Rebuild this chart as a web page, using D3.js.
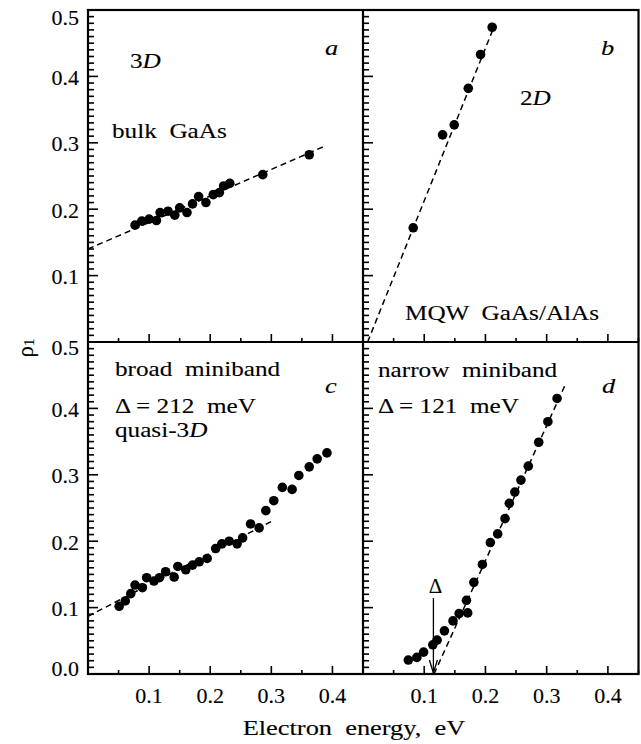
<!DOCTYPE html>
<html>
<head>
<meta charset="utf-8">
<script src="https://cdn.jsdelivr.net/npm/d3@7"></script>
<style>
  body { margin: 0; background: #fff; }
  svg text { font-family: "Liberation Serif", "Times New Roman", Times, serif; fill: #000; white-space: pre;
             stroke: #000; stroke-width: 0.12px; }
</style>
</head>
<body>
<div id="chart"></div>
<script>
// panel a: bulk GaAs
const aX = [0.077, 0.088, 0.100, 0.112, 0.118, 0.131, 0.142, 0.150, 0.162, 0.171, 0.181, 0.193, 0.205, 0.215, 0.222, 0.232, 0.286, 0.362];
const aY = [0.176, 0.182, 0.185, 0.183, 0.195, 0.197, 0.191, 0.202, 0.195, 0.208, 0.219, 0.210, 0.222, 0.225, 0.235, 0.239, 0.252, 0.282];
const aFit = [[0.0, 0.140], [0.385, 0.294]];

// panel b: MQW GaAs/AlAs
const bX = [0.082, 0.130, 0.149, 0.172, 0.192, 0.211];
const bY = [0.172, 0.312, 0.327, 0.382, 0.433, 0.474];
const bFit = [[0.0075, 0.0], [0.213, 0.4725]];

// panel c: broad miniband
const cX = [0.051, 0.061, 0.070, 0.077, 0.089, 0.096, 0.108, 0.117, 0.127, 0.141, 0.147, 0.160, 0.171, 0.182, 0.195,
            0.209, 0.219, 0.231, 0.244, 0.253, 0.266, 0.280, 0.291, 0.304, 0.318, 0.334, 0.345, 0.362, 0.375, 0.391];
const cY = [0.102, 0.110, 0.121, 0.134, 0.130, 0.145, 0.140, 0.145, 0.154, 0.146, 0.162, 0.157, 0.164, 0.169, 0.174,
            0.189, 0.196, 0.200, 0.196, 0.205, 0.226, 0.220, 0.246, 0.261, 0.281, 0.278, 0.299, 0.312, 0.324, 0.333];
const cFit = [[0.0, 0.087], [0.305, 0.232]];

// panel d: narrow miniband
const dX = [0.074, 0.088, 0.099, 0.114, 0.121, 0.133, 0.147, 0.157, 0.171, 0.169, 0.181, 0.195, 0.208, 0.220, 0.232,
            0.239, 0.248, 0.258, 0.270, 0.287, 0.302, 0.317];
const dY = [0.021, 0.025, 0.033, 0.044, 0.051, 0.065, 0.080, 0.091, 0.092, 0.111, 0.138, 0.165, 0.198, 0.211, 0.234,
            0.257, 0.274, 0.292, 0.313, 0.349, 0.380, 0.415];
const dFit = [[0.116, 0.0], [0.330, 0.435]];
const dGap = 0.115; // arrow marking the miniband width

const xTicks = [0.1, 0.2, 0.3, 0.4];
const xMinor = [0.05, 0.15, 0.25, 0.35, 0.45];
const yTicksTop = [0.1, 0.2, 0.3, 0.4, 0.5];
const yTicksBottom = [0.0, 0.1, 0.2, 0.3, 0.4, 0.5];
const yMajor = [0.1, 0.2, 0.3, 0.4];
const yMinor = d3.range(1, 50).filter(i => i % 10 !== 0).map(i => i / 100);

const width = 641, height = 744;
const padL = 88, padMid = 363, padR = 638.5, padT = 10, padMidY = 342, padB = 674;

const svg = d3.select("#chart").append("svg")
    .attr("width", width)
    .attr("height", height);

const xL = d3.scaleLinear().domain([0, 0.45]).range([padL, padMid]);
const xR = d3.scaleLinear().domain([0, 0.45]).range([padMid, padR]);
const yT = d3.scaleLinear().domain([0, 0.5]).range([padMidY, padT]);
const yB = d3.scaleLinear().domain([0, 0.5]).range([padB, padMidY]);

const panels = [
    { xs: aX, ys: aY, fit: aFit, x: xL, y: yT, yLab: yTicksTop, xLab: false },
    { xs: bX, ys: bY, fit: bFit, x: xR, y: yT, yLab: null, xLab: false },
    { xs: cX, ys: cY, fit: cFit, x: xL, y: yB, yLab: yTicksBottom, xLab: true },
    { xs: dX, ys: dY, fit: dFit, x: xR, y: yB, yLab: null, xLab: true }
];

const fmt = d3.format(".1f");

panels.forEach(p => {
    const x0 = p.x.range()[0];
    const y0 = p.y.range()[0];
    const g = svg.append("g").attr("fill", "#000");

    // inward y ticks as thin filled bars: minor every 0.01, major every 0.1
    g.selectAll("rect.ym")
        .data(yMinor.map(v => [v, 6]).concat(yMajor.map(v => [v, 10])))
        .join("rect")
        .attr("class", "ym")
        .attr("x", x0)
        .attr("y", d => p.y(d[0]) - 0.8)
        .attr("width", d => d[1])
        .attr("height", 1.6);

    // inward x ticks
    g.selectAll("rect.xm")
        .data(xMinor.map(v => [v, 4]).concat(xTicks.map(v => [v, 8])))
        .join("rect")
        .attr("class", "xm")
        .attr("x", d => p.x(d[0]) - 0.8)
        .attr("y", d => y0 - d[1])
        .attr("width", 1.6)
        .attr("height", d => d[1]);

    // tick labels
    if (p.yLab) {
        svg.append("g").selectAll("text")
            .data(p.yLab)
            .join("text")
            .attr("x", x0 - 9)
            .attr("y", d => p.y(d))
            .attr("text-anchor", "end")
            .attr("font-size", 22)
            // labels at the panel edges sit a little inside
            .attr("dy", d => d === 0.5 ? (p.y === yT ? "0.67em" : "0.57em") : d === 0 ? "0.08em" : "0.39em")
            .text(fmt);
    }
    if (p.xLab) {
        svg.append("g").selectAll("text")
            .data(xTicks)
            .join("text")
            .attr("x", d => p.x(d))
            .attr("y", y0 + 29)
            .attr("text-anchor", "middle")
            .attr("font-size", 22)
            .text(fmt);
    }

    // dashed fit
    svg.append("path")
        .datum(p.fit)
        .attr("d", d3.line().x(d => p.x(d[0])).y(d => p.y(d[1])))
        .attr("fill", "none")
        .attr("stroke", "#000")
        .attr("stroke-width", 1.5)
        .attr("stroke-dasharray", "6,4");

    // points
    svg.append("g").selectAll("circle")
        .data(p.xs.map((v, i) => [v, p.ys[i]]))
        .join("circle")
        .attr("cx", d => p.x(d[0]))
        .attr("cy", d => p.y(d[1]))
        .attr("r", 4.8)
        .attr("fill", "#000");
});

// frame
const frame = svg.append("g").attr("stroke", "#000").attr("stroke-width", 2.2).attr("fill", "none");
frame.append("rect").attr("x", padL).attr("y", padT).attr("width", padR - padL).attr("height", padB - padT);
frame.append("line").attr("x1", padMid).attr("x2", padMid).attr("y1", padT).attr("y2", padB);
frame.append("line").attr("x1", padL).attr("x2", padR).attr("y1", padMidY).attr("y2", padMidY);

// annotations
function note(x, y, parts, size) {
    const t = svg.append("text")
        .attr("transform", `translate(${x},${y}) scale(1.2,1)`)
        .attr("font-size", size || 21);
    parts.forEach(pt => {
        const s = t.append("tspan").text(typeof pt === "string" ? pt : pt.t);
        if (pt.i) s.attr("font-style", "italic");
    });
}

note(130, 68, ["3", { t: "D", i: true }]);
note(112, 138, ["bulk  GaAs"]);
note(325, 55, [{ t: "a", i: true }], 22);
note(601, 55, [{ t: "b", i: true }], 22);
note(520, 105, ["2", { t: "D", i: true }]);
note(405, 320, ["MQW  GaAs/AlAs"]);
note(325, 393, [{ t: "c", i: true }], 22);
note(602, 393, [{ t: "d", i: true }], 22);
note(115, 376, ["broad  miniband"]);
note(115, 413, ["\u0394 = 212  meV"]);
note(115, 437, ["quasi-3", { t: "D", i: true }]);
note(378, 377, ["narrow  miniband"]);
note(378, 413, ["\u0394 = 121  meV"]);

// gap arrow in panel d
const ax = xR(dGap);
svg.append("text")
    .attr("x", ax + 2).attr("y", 593)
    .attr("text-anchor", "middle")
    .attr("font-size", 21)
    .text("\u0394");
svg.append("line")
    .attr("x1", ax).attr("x2", ax)
    .attr("y1", 598).attr("y2", yB(0) - 1)
    .attr("stroke", "#000").attr("stroke-width", 1.3);
svg.append("path")
    .attr("d", `M${ax - 4},${yB(0) - 14} L${ax},${yB(0) - 1} L${ax + 4},${yB(0) - 14}`)
    .attr("fill", "none").attr("stroke", "#000").attr("stroke-width", 1.3);

// axis titles
svg.append("text")
    .attr("transform", `translate(354,735) scale(1.2,1)`)
    .attr("text-anchor", "middle")
    .attr("font-size", 22)
    .text("Electron  energy,  eV");

const yt = svg.append("text")
    .attr("transform", "translate(33,348) rotate(-90)")
    .attr("text-anchor", "middle")
    .attr("font-size", 23);
yt.append("tspan").text("\u03c1");
yt.append("tspan").attr("font-size", 15).attr("dy", 1).text("1");
</script>
</body>
</html>
